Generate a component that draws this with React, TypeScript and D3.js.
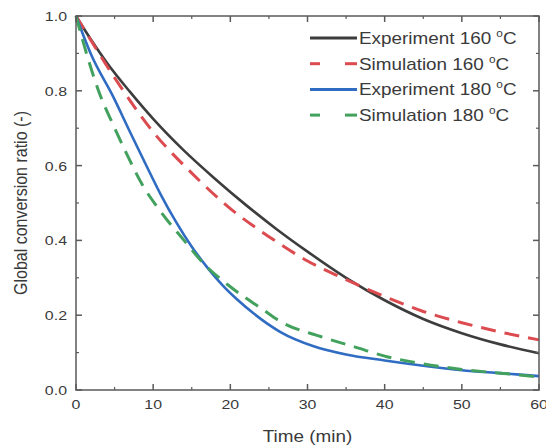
import React from 'react';
import * as d3 from 'd3';

// time (min) / conversion ratio
const exp160T = [0, 2, 4, 7, 10, 14, 18, 22, 26, 30, 35, 40, 45, 50, 55, 60];
const exp160V = [1.0, 0.935, 0.875, 0.797, 0.725, 0.64, 0.565, 0.495, 0.43, 0.37, 0.3, 0.24, 0.19, 0.152, 0.122, 0.098];

const sim160T = [0, 5, 10, 15, 20, 25, 30, 35, 40, 45, 50, 55, 60];
const sim160V = [1.0, 0.835, 0.69, 0.58, 0.485, 0.41, 0.345, 0.295, 0.25, 0.21, 0.18, 0.155, 0.134];

const exp180T = [0, 2, 4.8, 7, 9, 11, 13, 15, 17, 19, 21, 23, 26.5, 30.8, 35, 40, 45, 50, 55, 60];
const exp180V = [1.0, 0.895, 0.785, 0.69, 0.605, 0.522, 0.448, 0.383, 0.328, 0.28, 0.24, 0.205, 0.155, 0.117, 0.095, 0.079, 0.065, 0.053, 0.045, 0.037];

const sim180T = [0, 1.5, 3.1, 4.8, 6.6, 8.7, 10.5, 14, 16.5, 20, 24.3, 26.5, 31.7, 36, 40.3, 44.7, 50, 55, 60];
const sim180V = [1.0, 0.89, 0.79, 0.71, 0.63, 0.545, 0.49, 0.4, 0.339, 0.276, 0.214, 0.183, 0.143, 0.116, 0.089, 0.071, 0.055, 0.045, 0.035];

const seriesNames = ['Experiment 160', 'Simulation 160', 'Experiment 180', 'Simulation 180'];
const seriesColors = ['#3d3d3d', '#dc4b4f', '#2f6cc2', '#43a15e'];
const seriesDashed = [false, true, false, true];

const xTicks = [0, 10, 20, 30, 40, 50, 60];
const yTicks = [0.0, 0.2, 0.4, 0.6, 0.8, 1.0];

const width = 546;
const height = 445;
const margin = { left: 76, right: 7, top: 16, bottom: 55 };
const sx = 1.18; // the figure's text is stretched sideways

const App = () => {
    const x = d3.scaleLinear().domain([0, 60]).range([margin.left, width - margin.right]);
    const y = d3.scaleLinear().domain([0, 1]).range([height - margin.bottom, margin.top]);

    const series = [
        [exp160T, exp160V],
        [sim160T, sim160V],
        [exp180T, exp180V],
        [sim180T, sim180V],
    ].map(([t, v]) => t.map((d, i) => [d, v[i]] as [number, number]));

    const line = d3.line<[number, number]>()
        .x(d => x(d[0]))
        .y(d => y(d[1]))
        .curve(d3.curveMonotoneX);

    const x0 = x(0), x1 = x(60), y0 = y(0), y1 = y(1);
    const xMinor = d3.range(5, 60, 10);
    const yMinor = d3.range(0.1, 1, 0.2);
    const axisColor = '#5a5a5a';
    const textColor = '#3a3a3a';
    const font = 'Liberation Sans, Arial, sans-serif';

    return (
        <svg width={width} height={height} style={{ position: 'absolute', left: 0, top: 0 }} fontFamily={font}>
            <rect width={width} height={height} fill="white" />

            {series.map((s, i) => (
                <path key={i} d={line(s) || ''} fill="none" stroke={seriesColors[i]}
                    strokeWidth={seriesDashed[i] ? 3 : 2.6}
                    strokeDasharray={seriesDashed[i] ? '15 9' : undefined} />
            ))}

            {/* frame */}
            <rect x={x0} y={y1} width={x1 - x0} height={y0 - y1} fill="none" stroke={axisColor} strokeWidth={1.5} />

            {/* inward ticks on all four sides */}
            {xTicks.map(t => (
                <g key={'xt' + t} stroke={axisColor} strokeWidth={1.5}>
                    <line x1={x(t)} x2={x(t)} y1={y0} y2={y0 - 6} />
                    <line x1={x(t)} x2={x(t)} y1={y1} y2={y1 + 6} />
                </g>
            ))}
            {xMinor.map(t => (
                <g key={'xm' + t} stroke={axisColor} strokeWidth={1.2}>
                    <line x1={x(t)} x2={x(t)} y1={y0} y2={y0 - 3} />
                    <line x1={x(t)} x2={x(t)} y1={y1} y2={y1 + 3} />
                </g>
            ))}
            {yTicks.map(v => (
                <g key={'yt' + v} stroke={axisColor} strokeWidth={1.5}>
                    <line x1={x0} x2={x0 + 6} y1={y(v)} y2={y(v)} />
                    <line x1={x1} x2={x1 - 6} y1={y(v)} y2={y(v)} />
                </g>
            ))}
            {yMinor.map(v => (
                <g key={'ym' + v} stroke={axisColor} strokeWidth={1.2}>
                    <line x1={x0} x2={x0 + 3} y1={y(v)} y2={y(v)} />
                    <line x1={x1} x2={x1 - 3} y1={y(v)} y2={y(v)} />
                </g>
            ))}

            {/* tick labels */}
            {xTicks.map(t => (
                <text key={'xl' + t} transform={`translate(${x(t)},${y0 + 19}) scale(${sx},1)`}
                    textAnchor="middle" fontSize={13.5} fill={textColor}>{t}</text>
            ))}
            {yTicks.map(v => (
                <text key={'yl' + v} transform={`translate(${x0 - 9},${y(v) + 5}) scale(${sx},1)`}
                    textAnchor="end" fontSize={13.5} fill={textColor}>{v.toFixed(1)}</text>
            ))}

            {/* axis titles */}
            <text transform={`translate(${(x0 + x1) / 2},${y0 + 52}) scale(${sx},1)`}
                textAnchor="middle" fontSize={16} fill={textColor}>Time (min)</text>
            <text transform={`translate(27,${(y0 + y1) / 2}) scale(${sx},1) rotate(-90)`}
                textAnchor="middle" fontSize={16} fill={textColor}>Global conversion ratio (-)</text>

            {/* legend */}
            {seriesNames.map((n, i) => {
                const ly = 38 + i * 25.7;
                return (
                    <g key={'lg' + i}>
                        {seriesDashed[i] ? (
                            <g stroke={seriesColors[i]} strokeWidth={3}>
                                <line x1={310} x2={320} y1={ly} y2={ly} />
                                <line x1={345} x2={357} y1={ly} y2={ly} />
                            </g>
                        ) : (
                            <line x1={310} x2={357} y1={ly} y2={ly} stroke={seriesColors[i]} strokeWidth={3} />
                        )}
                        <text transform={`translate(359,${ly + 6}) scale(${sx},1)`} fontSize={16} fill={textColor}>
                            {n + ' '}
                            <tspan fontSize={10} dy={-7}>o</tspan>
                            <tspan dy={7}>C</tspan>
                        </text>
                    </g>
                );
            })}
        </svg>
    );
};

export default App;
